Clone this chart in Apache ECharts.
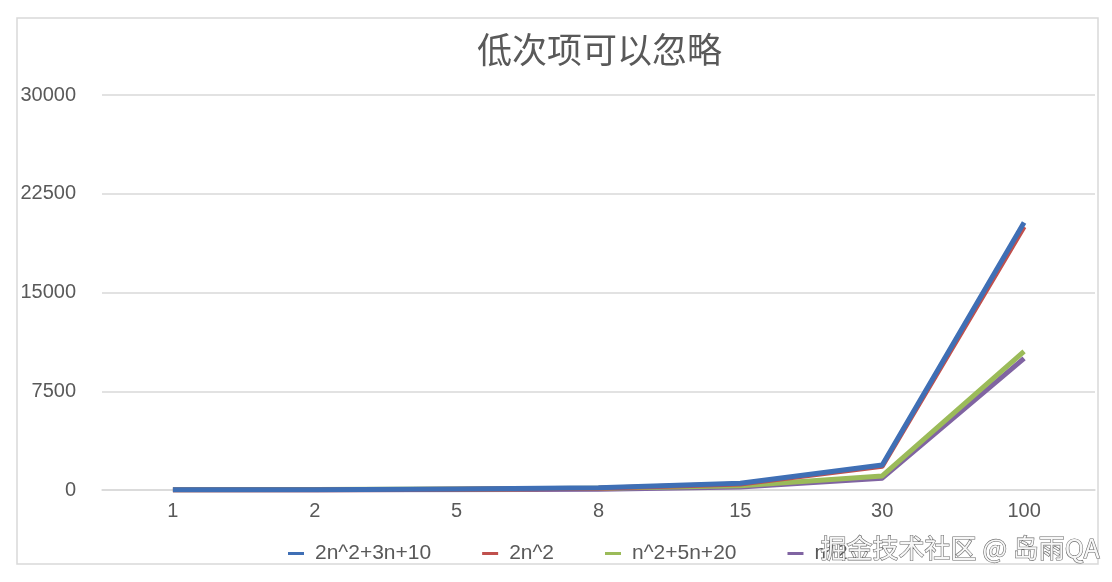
<!DOCTYPE html>
<html>
<head>
<meta charset="utf-8">
<script src="https://cdn.jsdelivr.net/npm/echarts@6/dist/echarts.min.js"></script>
<style>
html,body{margin:0;padding:0;background:#fff;}
#c{width:1112px;height:582px;}
</style>
</head>
<body>
<div id="c"></div>
<script>
var categories = ['1', '2', '5', '8', '15', '30', '100'];
var seriesNames = ['2n^2+3n+10', '2n^2', 'n^2+5n+20', 'n^2'];
var s1 = [15, 24, 75, 162, 505, 1900, 20310];
var s2 = [2, 8, 50, 128, 450, 1800, 20000];
var s3 = [26, 39, 70, 124, 320, 1070, 10520];
var s4 = [1, 4, 25, 64, 225, 900, 10000];
var yTicks = [0, 7500, 15000, 22500, 30000];
var colors = ['#3f6fb5', '#c0504d', '#9bbb59', '#8064a2'];

var chart = echarts.init(document.getElementById('c'), null, {renderer: 'canvas'});
var font = "'Liberation Sans', Arial, sans-serif";
var data = [s1, s2, s3, s4];
var zs = [5, 4, 3, 2];
var series = seriesNames.map(function (n, i) {
  return {
    name: n,
    type: 'line',
    data: data[i],
    symbol: 'none',
    z: zs[i],
    lineStyle: {width: 5, color: colors[i], join: 'round'},
    itemStyle: {color: colors[i]}
  };
});

chart.setOption({
  animation: false,
  backgroundColor: '#fff',
  title: {
    text: '低次项可以忽略',
    left: 472,
    top: 27,
    textStyle: {fontFamily: "'Noto Sans CJK SC', sans-serif", fontSize: 35, fontWeight: 'normal', color: '#595959'}
  },
  grid: {left: 102, right: 17, top: 95, bottom: 92, containLabel: false},
  xAxis: {
    type: 'category',
    data: categories,
    boundaryGap: true,
    axisLine: {lineStyle: {color: '#d9d9d9', width: 1.5}},
    axisTick: {show: false},
    axisLabel: {fontFamily: font, fontSize: 20, color: '#595959', margin: 11}
  },
  yAxis: {
    type: 'value',
    min: yTicks[0],
    max: yTicks[yTicks.length - 1],
    interval: yTicks[1] - yTicks[0],
    axisLine: {show: false},
    axisTick: {show: false},
    splitLine: {lineStyle: {color: '#d9d9d9', width: 1.5}},
    axisLabel: {fontFamily: font, fontSize: 20, color: '#595959', margin: 26,
      formatter: function (v) { return String(v); }}
  },
  legend: {
    data: seriesNames,
    left: 283,
    top: 538,
    icon: 'rect',
    itemWidth: 16,
    itemHeight: 3,
    itemGap: 51,
    textStyle: {fontFamily: font, fontSize: 21, color: '#595959', padding: [0, 0, 0, 6]}
  },
  graphic: [
    {
      type: 'rect',
      shape: {x: 17, y: 18, width: 1081, height: 546},
      style: {fill: 'none', stroke: '#d9d9d9', lineWidth: 1.5},
      z: 0,
      silent: true
    },
    {
      type: 'text',
      left: 820,
      top: 535,
      style: {
        text: '掘金技术社区 @ 岛雨QA',
        fontFamily: "'Noto Sans CJK SC', sans-serif",
        fontSize: 26,
        fill: '#f7f7f7',
        stroke: '#6a6a6a',
        lineWidth: 1.2
      },
      z: 100
    }
  ],
  series: series
});
</script>
</body>
</html>
